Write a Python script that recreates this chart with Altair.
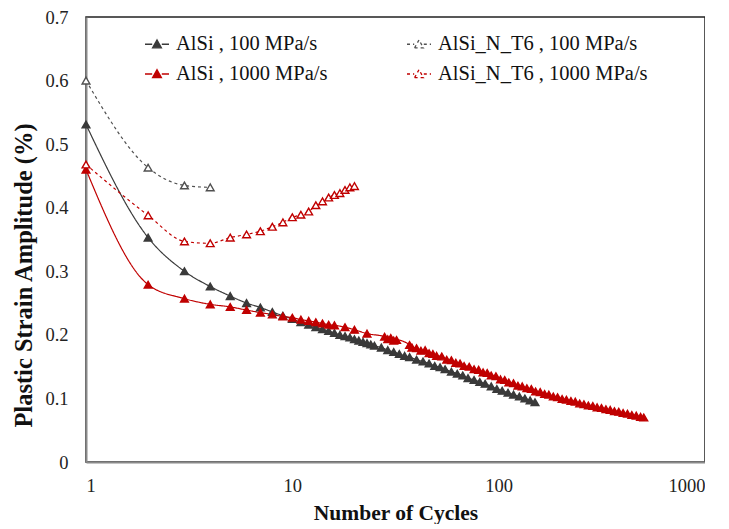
import altair as alt
import pandas as pd

SERIES = ["AlSi , 100 MPa/s", "AlSi , 1000 MPa/s", "AlSi_N_T6 , 100 MPa/s", "AlSi_N_T6 , 1000 MPa/s"]

alsi_100_cycles = list(range(1, 26)) + [27, 29, 31, 33, 35, 37, 40, 43, 46, 49, 52, 55, 59, 63, 67, 71,
                                        76, 81, 86, 92, 98, 104, 111, 118, 126, 134, 142, 150]
alsi_100_values = [0.531, 0.353, 0.300, 0.276, 0.261, 0.250, 0.243, 0.236, 0.230, 0.225,
                   0.220, 0.216, 0.212, 0.209, 0.206, 0.203, 0.200, 0.198, 0.196, 0.193,
                   0.191, 0.189, 0.187, 0.185, 0.183, 0.180, 0.176, 0.173, 0.170, 0.167,
                   0.165, 0.161, 0.158, 0.155, 0.151, 0.149, 0.146, 0.142, 0.139, 0.136,
                   0.132, 0.129, 0.126, 0.123, 0.119, 0.115, 0.112, 0.109, 0.106, 0.103,
                   0.100, 0.097, 0.094]

t6_100_cycles = [1, 2, 3, 4]
t6_100_values = [0.600, 0.463, 0.435, 0.432]

alsi_1000_cycles = [1, 2, 3, 4, 5, 6, 7, 8, 9, 10, 11, 12, 13, 14, 15, 16, 18, 20, 23, 28, 29, 30, 31, 32,
                    37, 38, 40, 42, 44, 46, 48, 50, 53, 56, 59, 62, 65, 68, 72, 76, 80, 84, 88, 92, 97,
                    102, 107, 112, 118, 124, 130, 137, 144, 151, 159, 167, 175, 184, 193, 203, 213, 224,
                    235, 247, 259, 272, 286, 300, 315, 331, 347, 364, 382, 401, 421, 442, 464, 487, 505]
alsi_1000_values = [0.460, 0.279, 0.257, 0.248, 0.244, 0.239, 0.235, 0.232, 0.229, 0.227,
                    0.224, 0.222, 0.220, 0.218, 0.216, 0.215, 0.212, 0.208, 0.202, 0.197,
                    0.193, 0.195, 0.191, 0.192, 0.184, 0.180, 0.179, 0.175, 0.176, 0.171,
                    0.170, 0.167, 0.166, 0.161, 0.160, 0.156, 0.155, 0.151, 0.150, 0.146,
                    0.145, 0.141, 0.140, 0.136, 0.135, 0.130, 0.129, 0.125, 0.124, 0.120,
                    0.119, 0.116, 0.115, 0.111, 0.110, 0.107, 0.106, 0.103, 0.102, 0.099,
                    0.098, 0.096, 0.095, 0.092, 0.091, 0.089, 0.088, 0.086, 0.085, 0.083,
                    0.082, 0.080, 0.079, 0.077, 0.076, 0.074, 0.073, 0.071, 0.070]

t6_1000_cycles = list(range(1, 21))
t6_1000_values = [0.468, 0.388, 0.347, 0.344, 0.353, 0.358, 0.363, 0.370, 0.377, 0.385,
                  0.389, 0.394, 0.404, 0.410, 0.416, 0.420, 0.423, 0.428, 0.432, 0.434]

X_TICKS = [1, 10, 100, 1000]
Y_TICKS = [0, 0.1, 0.2, 0.3, 0.4, 0.5, 0.6, 0.7]

rows = []
for name, cyc, val in [("AlSi , 100 MPa/s", alsi_100_cycles, alsi_100_values),
                       ("AlSi_N_T6 , 100 MPa/s", t6_100_cycles, t6_100_values),
                       ("AlSi , 1000 MPa/s", alsi_1000_cycles, alsi_1000_values),
                       ("AlSi_N_T6 , 1000 MPa/s", t6_1000_cycles, t6_1000_values)]:
    for c, v in zip(cyc, val):
        rows.append({"series": name, "cycles": c, "strain": v})
df = pd.DataFrame(rows)

FONT = "Liberation Serif"
stroke_range = ["#3a3a3a", "#c00000", "#505050", "#c00000"]
fill_range = ["#3a3a3a", "#c00000", "#ffffff", "#ffffff"]
dash_range = [[1, 0], [1, 0], [3, 3], [3, 3]]

legend_path = "M-1,0H-0.4M0.4,0H1M-0.37,0.3L0,-0.36L0.37,0.3Z"

x = alt.X("cycles:Q",
          scale=alt.Scale(type="log", domain=[1, 1000]),
          axis=alt.Axis(title="Number of Cycles", values=X_TICKS, format="d", grid=False,
                        ticks=False, labelPadding=14, titlePadding=8))
y = alt.Y("strain:Q",
          scale=alt.Scale(domain=[0, 0.7]),
          axis=alt.Axis(title="Plastic Strain Amplitude (%)", values=Y_TICKS, format=".1~f",
                        grid=False, ticks=False, labelPadding=18, titlePadding=8,
                        titleFontSize=24.5, titleY=258))

legend = alt.Legend(title=None, orient="none", legendX=58, legendY=14, columns=2,
                    columnPadding=76, rowPadding=6, symbolType=legend_path, symbolSize=576,
                    symbolStrokeWidth=1.3, labelFont=FONT, labelFontSize=20.5, labelColor="#111",
                    labelOffset=6, labelLimit=400)

stroke_scale = alt.Scale(domain=SERIES, range=stroke_range)

base = alt.Chart(df)

lines = base.mark_line(interpolate="monotone", strokeWidth=1.2).encode(
    x=x, y=y,
    stroke=alt.Stroke("series:N", scale=stroke_scale, legend=legend),
    strokeDash=alt.StrokeDash("series:N", scale=alt.Scale(domain=SERIES, range=dash_range), legend=legend),
    detail="series:N",
)

points = base.mark_point(shape="triangle-up", filled=True, size=60, strokeWidth=1.4, opacity=1).encode(
    x=x, y=y,
    stroke=alt.Stroke("series:N", scale=stroke_scale, legend=legend),
    fill=alt.Fill("series:N", scale=alt.Scale(domain=SERIES, range=fill_range), legend=legend),
)

chart = alt.layer(lines, points).properties(
    width=619, height=445,
    padding={"left": 3, "top": 0, "right": 0, "bottom": 0},
    background="white",
).configure_view(stroke="#222", strokeWidth=1.5).configure_axis(
    domainColor="#8a8a8a", domainWidth=2, labelFont=FONT, labelFontSize=18.5, labelColor="#222",
    titleFont=FONT, titleFontSize=21.5, titleFontWeight="bold", titleColor="#111",
)

chart.save("out.html", embed_options={"renderer": "svg", "actions": False})
